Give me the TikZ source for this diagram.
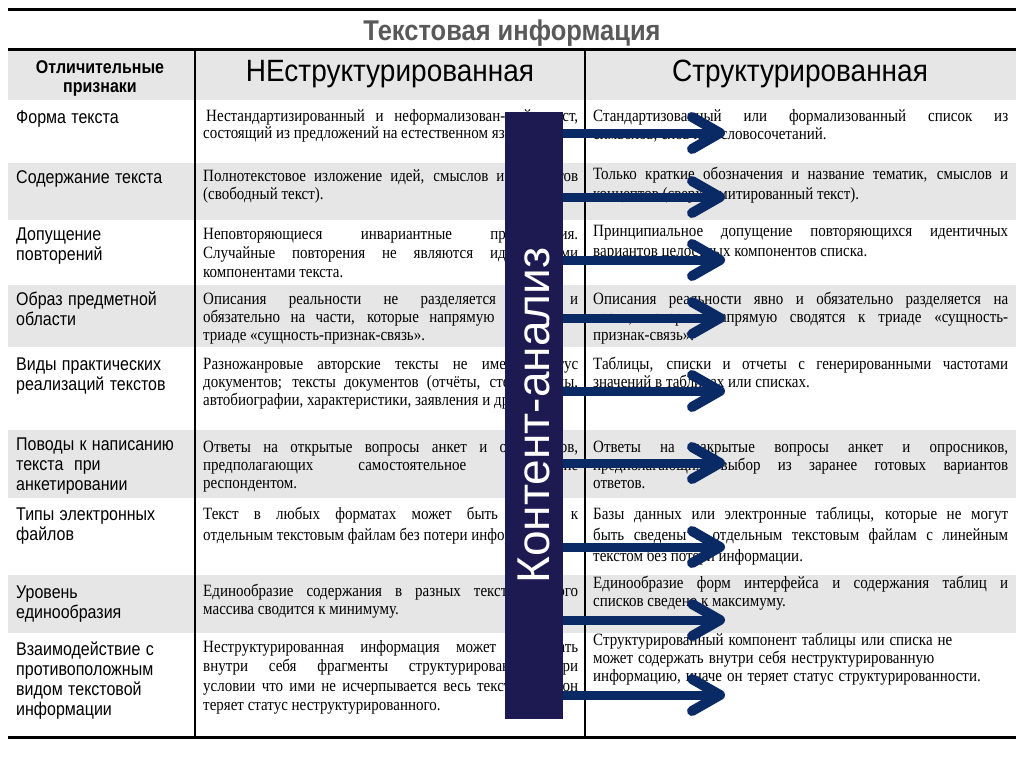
\documentclass[tikz,border=0pt]{standalone}
\usepackage{fontspec}
\setmainfont{Liberation Serif}
\setsansfont{Liberation Sans}
\definecolor{rowgray}{RGB}{230,230,230}
\definecolor{titlegray}{RGB}{89,89,89}
\definecolor{boxblue}{RGB}{28,26,80}
\definecolor{arrowblue}{RGB}{10,42,102}
\begin{document}
\tolerance=10000 \hbadness=10000 \hfuzz=20pt
\begin{tikzpicture}[x=1pt,y=-1pt,
  rule/.style={line width=3pt,draw=black},
  vrule/.style={line width=1.3pt,draw=black},
  lab/.style={font=\sffamily\fontsize{16}{17.4}\selectfont, anchor=base west, inner sep=0pt, text width=178pt, align=left, yscale=1.15},
  cell/.style={font=\fontsize{15}{15.9}\selectfont, anchor=base west, inner sep=0pt, align=justify, yscale=1.15},
  mid/.style={cell, text width=375pt},
  rgt/.style={cell, text width=415pt},
  headtext/.style={font=\sffamily\fontsize{28}{28}\selectfont, yscale=1.1},
  shaft/.style={draw=arrowblue, line width=9pt},
  chev/.style={draw=arrowblue, line width=10pt, line cap=round, line join=round},
]
\useasboundingbox (0,0) rectangle (1024,768);
\fill[white] (0,0) rectangle (1024,768);
% row fills
\fill[rowgray] (8,50) rectangle (1016,100);
\fill[rowgray] (8,163) rectangle (1016,220);
\fill[rowgray] (8,285) rectangle (1016,347);
\fill[rowgray] (8,430) rectangle (1016,498);
\fill[rowgray] (8,575) rectangle (1016,633);
% rules
\draw[rule] (8,10) -- (1016,10);
\draw[rule] (8,50) -- (1016,50);
\draw[rule] (8,737) -- (1016,737);
\draw[vrule] (195,50) -- (195,737);
\draw[vrule] (585,50) -- (585,737);
% title and header
\node[font=\sffamily\bfseries\fontsize{25.5}{25.5}\selectfont, text=titlegray, yscale=1.12] (title) at (512,33) {Текстовая информация};
\node[font=\sffamily\bfseries\fontsize{16}{16.5}\selectfont, align=center, yscale=1.15] (h0) at (100,78) {Отличительные\\признаки};
\node[headtext] (h1) at (390,74) {НЕструктурированная};
\node[headtext] (h2) at (800,74) {Структурированная};
% left labels
\node[lab] (l1) at (16,123) {Форма текста};
\node[lab] (l2) at (16,183) {Содержание текста};
\node[lab] (l3) at (16,240) {Допущение\\повторений};
\node[lab] (l4) at (16,305) {Образ предметной\\области};
\node[lab] (l5) at (16,370) {Виды практических\\реализаций текстов};
\node[lab] (l6) at (16,450) {Поводы к написанию\\текста~ при\\анкетировании};
\node[lab] (l7) at (16,520) {Типы электронных\\файлов};
\node[lab] (l8) at (16,598) {Уровень\\единообразия};
\node[lab] (l9) at (16,655) {Взаимодействие с\\противоположным\\видом текстовой\\информации};
% middle column
\node[mid, font=\fontsize{15}{15}\selectfont] (m1) at (203,121) {\hspace*{3pt}Нестандартизированный и неформализован-ный текст,\linebreak состоящий из предложений на естественном языке.};
\node[mid] (m2) at (203,181) {Полнотекстовое изложение идей, смыслов и концептов\linebreak (свободный текст).};
\node[mid, font=\fontsize{15}{16.7}\selectfont] (m3) at (203,239) {Неповторяющиеся инвариантные предложения.\linebreak Случайные повторения не являются идентичными\linebreak компонентами текста.};
\node[mid] (m4) at (203,304) {Описания реальности не разделяется явно и\linebreak обязательно на части, которые напрямую сводятся к\linebreak триаде «сущность-признак-связь».};
\node[mid] (m5) at (203,369) {Разножанровые авторские тексты не имеют статус\linebreak документов; тексты документов (отчёты, стенограммы,\linebreak автобиографии, характеристики, заявления и~др.).};
\node[mid] (m6) at (203,452) {Ответы на открытые вопросы анкет и опросников,\linebreak предполагающих самостоятельное написание\linebreak респондентом.};
\node[mid, font=\fontsize{15}{18.9}\selectfont] (m7) at (203,519) {Текст в любых форматах может быть сведен к\linebreak отдельным текстовым файлам без потери информации.};
\node[mid] (m8) at (203,596) {Единообразие содержания в разных текстах одного\linebreak массива сводится к минимуму.};
\node[mid, font=\fontsize{15}{17}\selectfont] (m9) at (203,652) {Неструктурированная информация может содержать\linebreak внутри себя фрагменты структурированной при\linebreak условии что ими не исчерпывается весь текст, иначе он\linebreak теряет статус неструктурированного.};
% right column
\node[rgt] (r1) at (593,121) {Стандартизованный или формализованный список из\linebreak символов, слов или словосочетаний.};
\node[rgt, font=\fontsize{15}{17.4}\selectfont] (r2) at (593,179) {Только краткие обозначения и название тематик, смыслов и\linebreak концептов (сверхлимитированный текст).};
\node[rgt, font=\fontsize{15}{17.4}\selectfont] (r3) at (593,236) {Принципиальное допущение повторяющихся идентичных\linebreak вариантов целостных компонентов списка.};
\node[rgt] (r4) at (593,304) {Описания реальности явно и обязательно разделяется на\linebreak части, которые напрямую сводятся к триаде «сущность-\linebreak признак-связь».};
\node[rgt] (r5) at (593,369) {Таблицы, списки и отчеты с генерированными частотами\linebreak значений в таблицах или списках.};
\node[rgt] (r6) at (593,452) {Ответы на закрытые вопросы анкет и опросников,\linebreak предполагающих выбор из заранее готовых вариантов\linebreak ответов.};
\node[rgt, font=\fontsize{15}{18.5}\selectfont] (r7) at (593,519) {Базы данных или электронные таблицы, которые не могут\linebreak быть сведены к отдельным текстовым файлам с линейным\linebreak текстом без потери информации.};
\node[rgt] (r8) at (593,588) {Единообразие форм интерфейса и содержания таблиц и\linebreak списков сведено к максимуму.};
\node[rgt, align=left] (r9) at (593,645) {Структурированный компонент таблицы или списка не\\может содержать внутри себя неструктурированную\\информацию, иначе он теряет статус структурированности.};
% content-analysis box
\node[fill=boxblue, draw=none, minimum width=58pt, minimum height=607pt, inner sep=0pt] (ka) at (534,415.5) {};
\node[rotate=90, text=white, font=\sffamily\fontsize{46}{46}\selectfont, inner sep=0pt] (kat) at (ka.center) {Контент-анализ};
% arrows
\foreach \i/\yy in {1/133,2/197,3/260,4/318,5/391,6/463,7/547,8/620,9/695}{
  \coordinate (t\i) at (720,\yy);
  \draw[shaft] (ka.east |- t\i) -- (t\i);
  \draw[chev] (t\i) ++(-28,-16) -- (t\i) -- ++(-28,16);
}
\end{tikzpicture}
\end{document}
